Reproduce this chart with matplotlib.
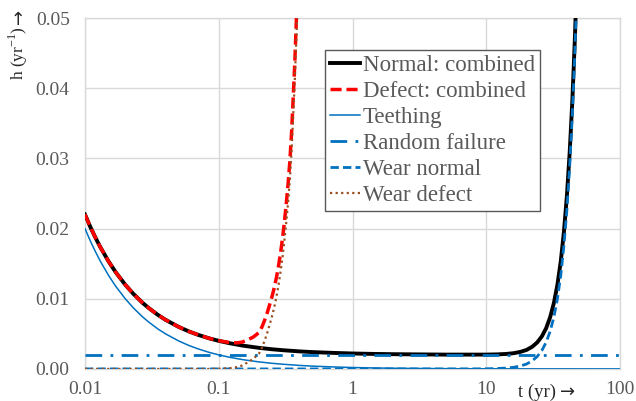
import matplotlib

matplotlib.use("Agg")
import matplotlib.pyplot as plt
from matplotlib.ticker import FixedLocator, NullLocator

plt.rcParams["font.family"] = ["Liberation Serif", "DejaVu Serif"]
plt.rcParams["mathtext.fontset"] = "custom"
plt.rcParams["mathtext.rm"] = "Liberation Serif"

# hazard curves (t in years, h in 1/yr)
t_teeth = [0.01, 0.011, 0.012, 0.013, 0.015, 0.017, 0.02, 0.023, 0.027, 0.03, 0.035, 0.04, 0.05,
           0.06, 0.07, 0.085, 0.1, 0.12, 0.15, 0.2, 0.25, 0.3, 0.4, 0.5, 0.7, 1, 1.5, 2, 3, 5,
           10, 20, 50, 100]
h_teeth = [0.02, 0.01818, 0.01667, 0.01538, 0.01333, 0.01176, 0.01, 0.0087, 0.0074, 0.00667,
           0.00571, 0.005, 0.004, 0.00333, 0.00286, 0.00235, 0.002, 0.00167, 0.00133, 0.001,
           0.0008, 0.00067, 0.0005, 0.0004, 0.00029, 0.0002, 0.00013, 0.0001, 0.000067,
           0.00004, 0.00002, 0.00001, 0.000004, 0.000002]

t_random = [0.01, 100]
h_random = [0.002, 0.002]

t_wear_n = [0.01, 1, 5, 8, 10, 12, 14, 16, 18, 20, 22, 24, 26, 28, 30, 32, 34, 36, 38, 40, 42,
            44, 46, 48]
h_wear_n = [0, 0, 0.000001, 0.000007, 0.00002, 0.000055, 0.00012, 0.00023, 0.00042, 0.0007,
            0.00114, 0.00176, 0.00262, 0.0038, 0.00536, 0.0074, 0.01, 0.0133, 0.0175, 0.0226,
            0.0289, 0.0364, 0.0455, 0.0562]

t_norm = [0.01, 0.011, 0.012, 0.013, 0.015, 0.017, 0.02, 0.023, 0.027, 0.03, 0.035, 0.04, 0.05,
          0.06, 0.07, 0.085, 0.1, 0.12, 0.15, 0.2, 0.25, 0.3, 0.4, 0.5, 0.7, 1, 1.5, 2, 3, 5,
          10, 12, 14, 16, 18, 20, 22, 24, 26, 28, 30, 32, 34, 36, 38, 40, 42, 44, 46, 48]
h_norm = [0.022, 0.02018, 0.01867, 0.01738, 0.01533, 0.01376, 0.012, 0.0107, 0.0094, 0.00867,
          0.00771, 0.007, 0.006, 0.00533, 0.00486, 0.00435, 0.004, 0.00367, 0.00333, 0.003,
          0.0028, 0.00267, 0.0025, 0.0024, 0.00229, 0.0022, 0.00213, 0.0021, 0.00207, 0.00204,
          0.00204, 0.00207, 0.00213, 0.00224, 0.00243, 0.00271, 0.00315, 0.00377, 0.00463,
          0.0058, 0.00737, 0.0094, 0.012, 0.0153, 0.0195, 0.0246, 0.0309, 0.0384, 0.0475, 0.0582]

t_defect = [0.01, 0.011, 0.012, 0.013, 0.015, 0.017, 0.02, 0.023, 0.027, 0.03, 0.035, 0.04, 0.05,
            0.06, 0.07, 0.085, 0.1, 0.11, 0.12, 0.13, 0.14, 0.15, 0.16, 0.17, 0.18, 0.19, 0.2,
            0.21, 0.22, 0.23, 0.24, 0.25, 0.26, 0.27, 0.28, 0.29, 0.3, 0.31, 0.32, 0.33, 0.34,
            0.35, 0.36, 0.37, 0.38, 0.39, 0.4]
h_wear_d = [0, 0, 0, 0, 0, 0, 0, 0, 0, 0, 0, 0, 0, 0, 0, 0, 0.00003, 0.00006, 0.0001, 0.00018,
            0.0003, 0.0005, 0.0008, 0.0011, 0.0014, 0.0018, 0.0022, 0.003, 0.004, 0.0051, 0.0063,
            0.0075, 0.0088, 0.0103, 0.012, 0.0139, 0.016, 0.0184, 0.021, 0.0238, 0.027, 0.031,
            0.036, 0.041, 0.047, 0.053, 0.06]
h_defect = [0.022, 0.02018, 0.01867, 0.01738, 0.01533, 0.01376, 0.012, 0.0107, 0.0094, 0.00867,
            0.00771, 0.007, 0.006, 0.00533, 0.00486, 0.00435, 0.00403, 0.00388, 0.00377,
            0.00372, 0.00373, 0.00383, 0.00405, 0.00428, 0.00451, 0.00485, 0.0052, 0.00595,
            0.00691, 0.00797, 0.00913, 0.0103, 0.01157, 0.01304, 0.01471, 0.01659, 0.01867,
            0.02105, 0.02363, 0.02641, 0.02959, 0.03357, 0.03856, 0.04354, 0.04953, 0.05551,
            0.0625]

x_ticks = [0.01, 0.1, 1, 10, 100]
x_labels = ["0.01", "0.1", "1", "10", "100"]
y_ticks = [0.0, 0.01, 0.02, 0.03, 0.04, 0.05]
y_labels = ["0.00", "0.01", "0.02", "0.03", "0.04", "0.05"]

BLUE = "#0070C0"
GREY = "#595959"

fig = plt.figure(figsize=(6.36, 4.01), dpi=100)
ax = fig.add_axes([0.1336, 0.080, 0.8414, 0.875])

ax.plot(t_norm, h_norm, color="black", lw=2.8, label="Normal: combined", zorder=3)
ax.plot(t_defect, h_defect, color="#FF0000", lw=2.5, ls=(0, (3.2, 1.4)), label="Defect: combined", zorder=4)
ax.plot(t_teeth, h_teeth, color=BLUE, lw=1.1, label="Teething", zorder=5)
ax.plot(t_random, h_random, color=BLUE, lw=2.0, ls=(0, (6, 3, 1, 3)), label="Random failure", zorder=6)
ax.plot(t_wear_n, h_wear_n, color=BLUE, lw=2.0, ls=(0, (3, 1.5)), label="Wear normal", zorder=7)
ax.plot(t_defect, h_wear_d, color="#9C4F1E", lw=1.6, ls=(0, (1, 1.5)), label="Wear defect", zorder=8)

ax.set_xscale("log")
ax.set_xlim(0.01, 100)
ax.set_ylim(0, 0.05)
ax.xaxis.set_major_locator(FixedLocator(x_ticks))
ax.xaxis.set_minor_locator(NullLocator())
ax.set_xticklabels(x_labels)
ax.set_yticks(y_ticks)
ax.set_yticklabels(y_labels)
ax.tick_params(axis="both", length=0, labelsize=14, colors=GREY)
ax.tick_params(axis="y", pad=11)
ax.tick_params(axis="x", pad=9)
ax.grid(True, color="#D9D9D9", lw=1.0)
ax.set_axisbelow(True)
for side in ax.spines:
    ax.spines[side].set_color("#D9D9D9")
    ax.spines[side].set_linewidth(1.0)

leg = ax.legend(loc="upper left", bbox_to_anchor=(0.449, 0.909), fontsize=16.5, frameon=True,
                fancybox=False, framealpha=1, edgecolor=GREY, handlelength=1.3,
                handletextpad=0.15, labelspacing=0.22, borderpad=0.2, borderaxespad=0)
leg.get_frame().set_linewidth(1.0)
for txt in leg.get_texts():
    txt.set_color(GREY)

# axis titles, arrows drawn in DejaVu Sans since the serif arrow is tiny
fig.text(0.029, 0.868, "h (yr$^{-1}$)", rotation=90, ha="center", va="center",
         fontsize=12.5, color="#262626")
fig.text(0.029, 0.958, "\u2192", rotation=90, ha="center", va="center",
         fontsize=13, color="#262626", family="DejaVu Sans")
fig.text(0.875, 0.022, "t (yr)", ha="right", va="center", fontsize=13.5, color="#262626")
fig.text(0.880, 0.022, "\u2192", ha="left", va="center", fontsize=13, color="#262626",
         family="DejaVu Sans")

fig.savefig("out.png", dpi=100)
